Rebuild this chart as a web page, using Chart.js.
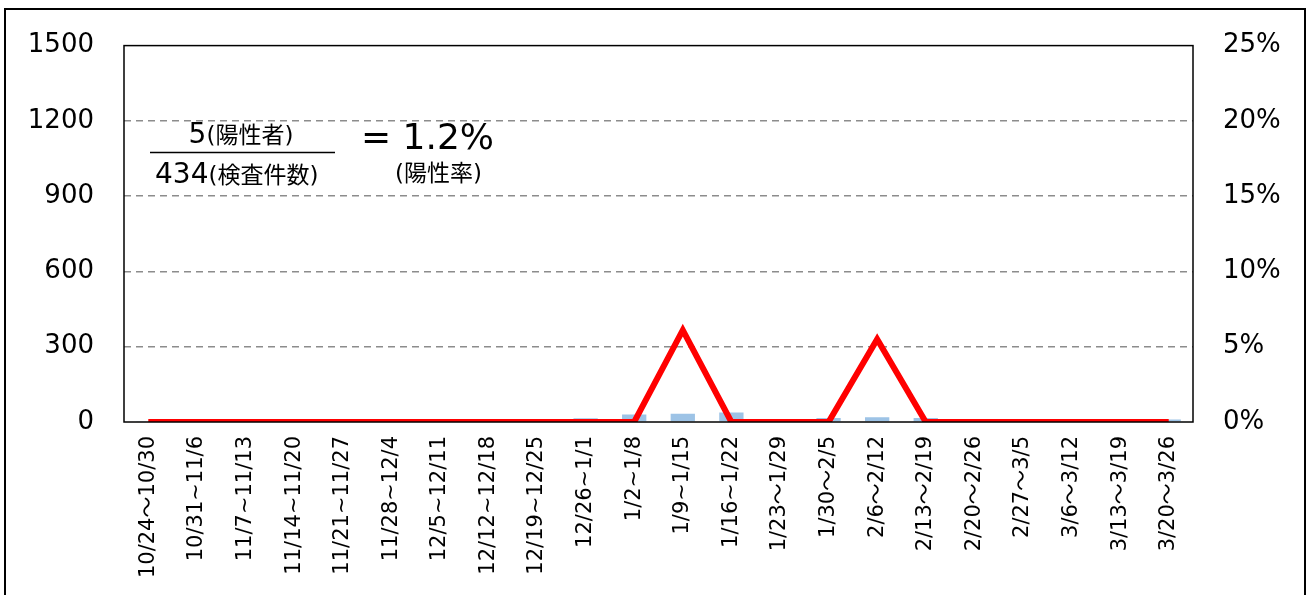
<!DOCTYPE html>
<html lang="ja">
<head>
<meta charset="utf-8">
<title>陽性率</title>
<script src="https://cdn.jsdelivr.net/npm/chart.js@4.4.1/dist/chart.umd.min.js"></script>
<style>
  html, body { margin: 0; padding: 0; background: #fff; overflow: hidden; }
  #wrap { position: relative; width: 1314px; height: 595px; }
  #frame {
    position: absolute; left: 4px; top: 8px; width: 1302px; height: 600px;
    border: 2px solid #000; box-sizing: border-box; pointer-events: none;
  }
  canvas { position: absolute; left: 0; top: 0; }
</style>
</head>
<body>
<div id="wrap">
  <canvas id="chart" width="1314" height="595"></canvas>
  <div id="frame"></div>
</div>
<script>
// weekly periods
const weeks = [
  "10/24〜10/30", "10/31~11/6", "11/7~11/13", "11/14~11/20", "11/21~11/27",
  "11/28~12/4", "12/5~12/11", "12/12~12/18", "12/19~12/25", "12/26~1/1",
  "1/2~1/8", "1/9~1/15", "1/16~1/22", "1/23〜1/29", "1/30〜2/5",
  "2/6〜2/12", "2/13〜2/19", "2/20〜2/26", "2/27〜3/5", "3/6〜3/12",
  "3/13〜3/19", "3/20〜3/26"
];

// number of tests per week (left axis)
const tests = [2, 0, 0, 3, 0, 3, 0, 0, 8, 15, 30, 33, 38, 8, 16, 19, 16, 4, 3, 3, 3, 10];

// positive rate per week, % (right axis)
const positiveRate = [0, 0, 0, 0, 0, 0, 0, 0, 0, 0, 0, 6.1, 0, 0, 0, 5.5, 0, 0, 0, 0, 0, 0];

const countTicks = [0, 300, 600, 900, 1200, 1500];
const rateTicks = [0, 5, 10, 15, 20, 25];

// summary shown in the upper left
const positives = 5;
const totalTests = 434;
const totalRate = "1.2%";

const FONT = '"DejaVu Sans", "Noto Sans CJK JP", sans-serif';

const frameAndNote = {
  id: "frameAndNote",
  afterDraw(chart) {
    const { ctx, chartArea: a } = chart;
    ctx.save();
    ctx.strokeStyle = "#000";
    ctx.lineWidth = 1.5;
    ctx.strokeRect(a.left, a.top, a.right - a.left, a.bottom - a.top);

    ctx.fillStyle = "#000";
    ctx.textBaseline = "alphabetic";
    ctx.textAlign = "left";
    // numerator
    ctx.font = "28px " + FONT;
    const n1 = String(positives);
    const w1 = ctx.measureText(n1).width;
    ctx.font = "23px " + FONT;
    const s1 = "(陽性者)";
    const w2 = ctx.measureText(s1).width;
    const x = 241 - (w1 + w2) / 2;
    ctx.font = "28px " + FONT;
    ctx.fillText(n1, x, 143);
    ctx.font = "23px " + FONT;
    ctx.fillText(s1, x + w1, 143);
    // fraction bar
    ctx.lineWidth = 1.5;
    ctx.beginPath();
    ctx.moveTo(150, 152.5);
    ctx.lineTo(335, 152.5);
    ctx.stroke();
    // denominator
    ctx.font = "28px " + FONT;
    const n2 = String(totalTests);
    const w3 = ctx.measureText(n2).width;
    ctx.fillText(n2, 155, 183);
    ctx.font = "23px " + FONT;
    ctx.fillText("(検査件数)", 155 + w3, 183);
    // result
    ctx.font = "36px " + FONT;
    ctx.fillText("= " + totalRate, 361, 149);
    ctx.font = "23px " + FONT;
    ctx.fillText("(陽性率)", 395, 181);
    ctx.restore();
  }
};

const gridColor = (c) =>
  c.tick && (c.tick.value === 0 || c.tick.value === 1500) ? "rgba(0,0,0,0)" : "#8c8c8c";

new Chart(document.getElementById("chart"), {
  data: {
    labels: weeks,
    datasets: [
      {
        type: "line",
        label: "陽性率",
        data: positiveRate,
        yAxisID: "y1",
        borderColor: "#ff0000",
        borderWidth: 6,
        pointRadius: 0,
        tension: 0,
        fill: false
      },
      {
        type: "bar",
        label: "検査件数",
        data: tests,
        yAxisID: "y",
        backgroundColor: "#9dc3e6",
        barPercentage: 0.5,
        categoryPercentage: 1.0
      }
    ]
  },
  options: {
    responsive: false,
    animation: false,
    layout: { padding: { top: 41, left: 0, right: 0, bottom: 0 } },
    plugins: { legend: { display: false }, tooltip: { enabled: false } },
    scales: {
      x: {
        grid: { display: false, drawTicks: false },
        border: { display: false },
        ticks: {
          color: "#000",
          font: { family: FONT, size: 21 },
          minRotation: 90,
          maxRotation: 90,
          autoSkip: false,
          padding: 14
        },
        afterFit(scale) { scale.height = 173; }
      },
      y: {
        position: "left",
        min: 0,
        max: 1500,
        afterBuildTicks(scale) { scale.ticks = countTicks.map((v) => ({ value: v })); },
        grid: { color: gridColor, lineWidth: 1.5, drawTicks: false },
        border: { display: false, dash: [7, 5] },
        ticks: {
          color: "#000",
          font: { family: FONT, size: 26 },
          padding: 30,
          callback: (v) => String(v)
        },
        afterFit(scale) { scale.width = 124; }
      },
      y1: {
        position: "right",
        min: 0,
        max: 25,
        afterBuildTicks(scale) { scale.ticks = rateTicks.map((v) => ({ value: v })); },
        grid: { display: false, drawTicks: false },
        border: { display: false },
        ticks: {
          color: "#000",
          font: { family: FONT, size: 26 },
          padding: 30,
          callback: (v) => v + "%"
        },
        afterFit(scale) { scale.width = 121; }
      }
    }
  },
  plugins: [frameAndNote]
});
</script>
</body>
</html>
